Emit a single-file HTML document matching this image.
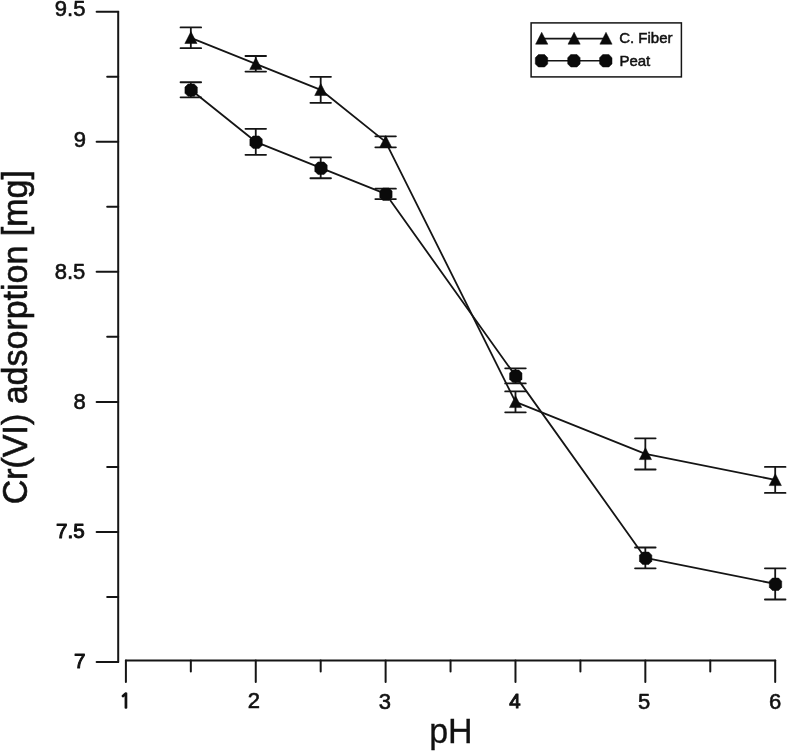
<!DOCTYPE html>
<html lang="en">
<head>
<meta charset="utf-8">
<title>Cr(VI) adsorption vs pH</title>
<style>
html,body{margin:0;padding:0;background:#fff;}
body{width:788px;height:751px;overflow:hidden;}
svg{display:block;}
text{font-family:"Liberation Sans",Arial,Helvetica,sans-serif;fill:#111;}
.tick{font-size:22px;stroke:#111;stroke-linejoin:round;}
.one{font-family:"NanumGothic","Liberation Sans",sans-serif;font-size:19.3px;}
.leg{font-size:15px;stroke:#111;stroke-width:0.5px;}
.ttl{font-size:34px;}
</style>
</head>
<body>
<svg width="788" height="751" viewBox="0 0 788 751">
<rect x="0" y="0" width="788" height="751" fill="#ffffff"/>
<g stroke="#151515" stroke-width="2.0" fill="none" stroke-linecap="round">
<line x1="118.2" y1="11.80" x2="118.2" y2="661.92"/>
<line x1="96.6" y1="11.80" x2="118.2" y2="11.80"/>
<line x1="107.2" y1="76.81" x2="118.2" y2="76.81"/>
<line x1="96.6" y1="141.83" x2="118.2" y2="141.83"/>
<line x1="107.2" y1="206.84" x2="118.2" y2="206.84"/>
<line x1="96.6" y1="271.85" x2="118.2" y2="271.85"/>
<line x1="107.2" y1="336.86" x2="118.2" y2="336.86"/>
<line x1="96.6" y1="401.88" x2="118.2" y2="401.88"/>
<line x1="107.2" y1="466.89" x2="118.2" y2="466.89"/>
<line x1="96.6" y1="531.90" x2="118.2" y2="531.90"/>
<line x1="107.2" y1="596.91" x2="118.2" y2="596.91"/>
<line x1="96.6" y1="661.92" x2="118.2" y2="661.92"/>
<line x1="125.90" y1="660.4" x2="775.20" y2="660.4"/>
<line x1="125.90" y1="660.4" x2="125.90" y2="682.0"/>
<line x1="190.83" y1="660.4" x2="190.83" y2="671.5"/>
<line x1="255.76" y1="660.4" x2="255.76" y2="682.0"/>
<line x1="320.69" y1="660.4" x2="320.69" y2="671.5"/>
<line x1="385.62" y1="660.4" x2="385.62" y2="682.0"/>
<line x1="450.55" y1="660.4" x2="450.55" y2="671.5"/>
<line x1="515.48" y1="660.4" x2="515.48" y2="682.0"/>
<line x1="580.41" y1="660.4" x2="580.41" y2="671.5"/>
<line x1="645.34" y1="660.4" x2="645.34" y2="682.0"/>
<line x1="710.27" y1="660.4" x2="710.27" y2="671.5"/>
<line x1="775.20" y1="660.4" x2="775.20" y2="682.0"/>
</g>
<g class="tick" text-anchor="end">
<text x="85.45" y="15.90" stroke-width="0.6">9.5</text>
<text x="86.10" y="147.23" stroke-width="0.6">9</text>
<text x="85.25" y="279.35" stroke-width="0.6">8.5</text>
<text x="85.70" y="408.88" stroke-width="0.6">8</text>
<text x="84.70" y="538.10" stroke-width="1.05" font-size="20.6">7.5</text>
<text x="85.50" y="668.42" stroke-width="1.05" font-size="20.6">7</text>
</g>
<g class="tick" text-anchor="middle">
<text class="one" x="125.30" y="708.00" stroke-width="1.4">1</text>
<text x="253.81" y="708.30" stroke-width="0.6">2</text>
<text x="384.92" y="708.60" stroke-width="0.6">3</text>
<text font-size="20.4" x="514.98" y="707.90" stroke-width="1.05">4</text>
<text x="644.24" y="709.10" stroke-width="0.6">5</text>
<text x="775.15" y="708.60" stroke-width="0.6">6</text>
</g>
<text class="ttl" text-anchor="middle" transform="translate(450.9 742.5) scale(1 1.05)" stroke="#111" stroke-width="0.3">pH</text>
<text class="ttl" text-anchor="middle" transform="translate(26.5 337.2) rotate(-90) scale(1 1.025)" stroke="#111" stroke-width="0.6">Cr(VI) adsorption [mg]</text>
<g stroke="#151515" stroke-width="1.8" fill="none" stroke-linejoin="round">
<polyline points="190.83,37.80 255.76,63.81 320.69,89.82 385.62,141.83 515.48,401.88 645.34,453.89 775.20,479.89"/>
<polyline points="190.83,89.82 255.76,141.83 320.69,167.83 385.62,193.83 515.48,375.87 645.34,557.90 775.20,583.91"/>
</g>
<g stroke="#151515" stroke-width="1.8" fill="none" stroke-linecap="round">
<path d="M190.83 27.40V48.21M180.53 27.40H201.13M180.53 48.21H201.13"/>
<path d="M255.76 56.01V71.61M245.46 56.01H266.06M245.46 71.61H266.06"/>
<path d="M320.69 76.81V102.82M310.39 76.81H330.99M310.39 102.82H330.99"/>
<path d="M385.62 136.36V147.29M375.32 136.36H395.92M375.32 147.29H395.92"/>
<path d="M515.48 391.47V412.28M505.18 391.47H525.78M505.18 412.28H525.78"/>
<path d="M645.34 438.28V469.49M635.04 438.28H655.64M635.04 469.49H655.64"/>
<path d="M775.20 466.89V492.89M764.90 466.89H785.50M764.90 492.89H785.50"/>
<path d="M190.83 82.27V97.36M180.53 82.27H201.13M180.53 97.36H201.13"/>
<path d="M255.76 128.82V154.83M245.46 128.82H266.06M245.46 154.83H266.06"/>
<path d="M320.69 157.43V178.23M310.39 157.43H330.99M310.39 178.23H330.99"/>
<path d="M385.62 188.63V199.04M375.32 188.63H395.92M375.32 199.04H395.92"/>
<path d="M515.48 368.33V383.41M505.18 368.33H525.78M505.18 383.41H525.78"/>
<path d="M645.34 547.50V568.31M635.04 547.50H655.64M635.04 568.31H655.64"/>
<path d="M775.20 568.31V599.51M764.90 568.31H785.50M764.90 599.51H785.50"/>
</g>
<g fill="#0a0a0a" stroke="#0a0a0a" stroke-width="0.5" stroke-linejoin="round">
<path d="M190.93 31.60L197.03 43.50H184.83Z"/>
<path d="M255.86 57.61L261.96 69.51H249.76Z"/>
<path d="M320.79 83.62L326.89 95.52H314.69Z"/>
<path d="M385.72 135.62L391.82 147.53H379.62Z"/>
<path d="M515.58 395.68L521.68 407.58H509.48Z"/>
<path d="M645.44 447.69L651.54 459.59H639.34Z"/>
<path d="M775.30 473.69L781.40 485.59H769.20Z"/>
<polygon points="188.03,83.97 194.23,83.97 197.33,87.07 197.33,93.27 194.23,96.37 188.03,96.37 184.93,93.27 184.93,87.07"/>
<polygon points="252.96,135.98 259.16,135.98 262.26,139.08 262.26,145.28 259.16,148.38 252.96,148.38 249.86,145.28 249.86,139.08"/>
<polygon points="317.89,161.98 324.09,161.98 327.19,165.08 327.19,171.28 324.09,174.38 317.89,174.38 314.79,171.28 314.79,165.08"/>
<polygon points="382.82,187.98 389.02,187.98 392.12,191.08 392.12,197.28 389.02,200.38 382.82,200.38 379.72,197.28 379.72,191.08"/>
<polygon points="512.68,370.02 518.88,370.02 521.98,373.12 521.98,379.32 518.88,382.42 512.68,382.42 509.58,379.32 509.58,373.12"/>
<polygon points="642.54,552.05 648.74,552.05 651.84,555.15 651.84,561.35 648.74,564.45 642.54,564.45 639.44,561.35 639.44,555.15"/>
<polygon points="772.40,578.06 778.60,578.06 781.70,581.16 781.70,587.36 778.60,590.46 772.40,590.46 769.30,587.36 769.30,581.16"/>
</g>
<rect x="531.1" y="22.9" width="150.3" height="54.0" fill="#fff" stroke="#151515" stroke-width="1.5"/>
<g stroke="#151515" stroke-width="1.6"><line x1="541.5" y1="38.6" x2="605.8" y2="38.6"/><line x1="541.5" y1="60.8" x2="605.8" y2="60.8"/></g>
<g fill="#0a0a0a" stroke="#0a0a0a" stroke-width="0.5" stroke-linejoin="round">
<path d="M541.70 32.30L547.80 44.20H535.60Z"/>
<polygon points="538.40,54.60 544.60,54.60 547.70,57.70 547.70,63.90 544.60,67.00 538.40,67.00 535.30,63.90 535.30,57.70"/>
<path d="M574.10 32.30L580.20 44.20H568.00Z"/>
<polygon points="570.80,54.60 577.00,54.60 580.10,57.70 580.10,63.90 577.00,67.00 570.80,67.00 567.70,63.90 567.70,57.70"/>
<path d="M606.00 32.30L612.10 44.20H599.90Z"/>
<polygon points="602.70,54.60 608.90,54.60 612.00,57.70 612.00,63.90 608.90,67.00 602.70,67.00 599.60,63.90 599.60,57.70"/>
</g>
<text class="leg" x="619.2" y="43.4">C. Fiber</text>
<text class="leg" x="619.4" y="65.8">Peat</text>
</svg>
</body>
</html>
